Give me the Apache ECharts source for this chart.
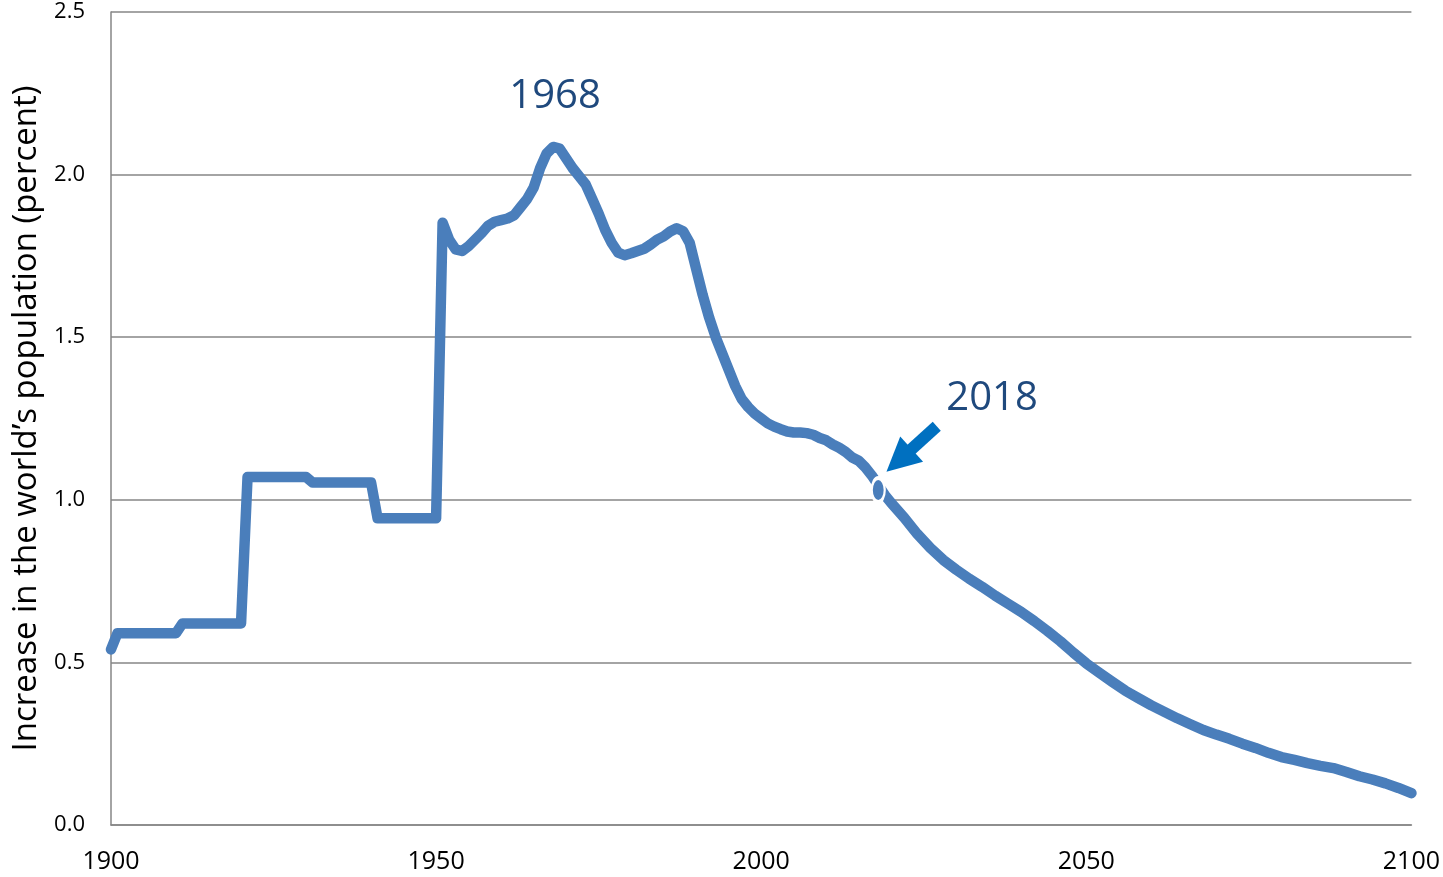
<!DOCTYPE html>
<html>
<head>
<meta charset="utf-8">
<script src="https://cdn.jsdelivr.net/npm/echarts@6/dist/echarts.min.js"></script>
<style>
  html, body { margin: 0; padding: 0; background: #fff; }
  #chart { width: 1443px; height: 877px; }
</style>
</head>
<body>
<div id="chart"></div>
<script>
// annual growth of world population, percent
const years = [
  1900, 1901, 1910, 1911, 1920, 1921, 1930, 1931, 1940, 1941, 1950,
  1951, 1952, 1953, 1954, 1955, 1956, 1957, 1958, 1959, 1960,
  1961, 1962, 1963, 1964, 1965, 1966, 1967, 1968, 1969, 1970,
  1971, 1972, 1973, 1974, 1975, 1976, 1977, 1978, 1979, 1980,
  1981, 1982, 1983, 1984, 1985, 1986, 1987, 1988, 1989, 1990,
  1991, 1992, 1993, 1994, 1995, 1996, 1997, 1998, 1999, 2000,
  2001, 2002, 2003, 2004, 2005, 2006, 2007, 2008, 2009, 2010,
  2011, 2012, 2013, 2014, 2015, 2016, 2017, 2018, 2019, 2020,
  2022, 2024, 2026, 2028, 2030, 2032, 2034, 2036, 2038, 2040,
  2042, 2044, 2046, 2048, 2050, 2052, 2054, 2056, 2058, 2060,
  2062, 2064, 2066, 2068, 2070, 2072, 2074, 2076, 2078, 2080,
  2082, 2084, 2086, 2088, 2090, 2092, 2094, 2096, 2098, 2100
];
const growth = [
  0.54, 0.59, 0.59, 0.62, 0.62, 1.07, 1.07, 1.053, 1.053, 0.943, 0.943,
  1.852, 1.80, 1.77, 1.765, 1.78, 1.80, 1.82, 1.843, 1.855, 1.86,
  1.865, 1.875, 1.90, 1.925, 1.96, 2.02, 2.065, 2.085, 2.08, 2.05,
  2.02, 1.995, 1.97, 1.925, 1.88, 1.83, 1.79, 1.76, 1.752, 1.758,
  1.765, 1.772, 1.785, 1.80, 1.81, 1.825, 1.835, 1.826, 1.79, 1.71,
  1.63, 1.56, 1.50, 1.45, 1.40, 1.35, 1.31, 1.285, 1.265, 1.25,
  1.235, 1.225, 1.217, 1.21, 1.207, 1.207, 1.205, 1.20, 1.19, 1.183,
  1.17, 1.16, 1.147, 1.13, 1.12, 1.10, 1.075, 1.045, 1.015, 0.99,
  0.945, 0.895, 0.852, 0.815, 0.785, 0.757, 0.732, 0.705, 0.68, 0.655,
  0.627, 0.597, 0.565, 0.53, 0.497, 0.468, 0.44, 0.413, 0.39, 0.368,
  0.348, 0.328, 0.31, 0.292, 0.278, 0.265, 0.25, 0.237, 0.222, 0.209,
  0.20, 0.19, 0.182, 0.175, 0.163, 0.15, 0.14, 0.128, 0.114, 0.098
];

const xTicks = [1900, 2100, 50];       // min, max, step
const yTicks = [0, 2.5, 0.5];
const yTitle = 'Increase in the world\u2019s population (percent)';

// annotations
const markYear = [2018, 1.03];
const peakLabel = { text: '1968', at: [1968.3, 2.24] };
const nowLabel = { text: '2018', at: [2035.5, 1.31] };
const arrowFrom = [2027.0, 1.226];
const arrowTo = [2021.2, 1.121];

const lineBlue = '#4a7ebb';
const gridGray = '#868686';
const labelBlue = '#1f497d';
const font = '"Open Sans", sans-serif';

const chart = echarts.init(document.getElementById('chart'));

const option = {
  animation: false,
  backgroundColor: '#fff',
  grid: { left: 111, right: 30, top: 12, bottom: 52 },
  xAxis: {
    type: 'value',
    min: xTicks[0],
    max: xTicks[1],
    interval: xTicks[2],
    axisLine: { show: true, lineStyle: { color: gridGray, width: 1.5 } },
    axisTick: { show: false },
    splitLine: { show: false },
    axisLabel: {
      color: '#000',
      fontFamily: font,
      fontSize: 25,
      margin: 24,
      formatter: v => String(v)
    }
  },
  yAxis: {
    type: 'value',
    min: yTicks[0],
    max: yTicks[1],
    interval: yTicks[2],
    name: yTitle,
    nameLocation: 'middle',
    nameRotate: 90,
    nameGap: 68,
    nameTextStyle: { color: '#000', fontFamily: font, fontSize: 33 },
    axisLine: { show: true, lineStyle: { color: gridGray, width: 1.5 } },
    axisTick: { show: false },
    splitLine: { show: true, lineStyle: { color: gridGray, width: 1.5 } },
    axisLabel: {
      color: '#000',
      fontFamily: font,
      fontSize: 22,
      margin: 26,
      formatter: v => v.toFixed(1)
    }
  },
  series: [
    {
      type: 'line',
      data: years.map((y, i) => [y, growth[i]]),
      showSymbol: false,
      symbol: 'none',
      silent: true,
      lineStyle: { color: lineBlue, width: 10.5, join: 'round', cap: 'round' },
      z: 2
    },
    {
      type: 'scatter',
      data: [markYear],
      symbol: 'circle',
      symbolSize: [13, 24],
      silent: true,
      itemStyle: { color: lineBlue, borderColor: '#fff', borderWidth: 3, opacity: 1 },
      z: 3,
      markLine: {
        silent: true,
        symbol: ['none', 'triangle'],
        symbolSize: [34, 34],
        label: { show: false },
        lineStyle: { color: '#0070c0', width: 12, type: 'solid', cap: 'butt', opacity: 1 },
        itemStyle: { color: '#0070c0' },
        data: [[{ coord: arrowFrom }, { coord: arrowTo }]]
      }
    },
    {
      type: 'scatter',
      data: [peakLabel.at, nowLabel.at],
      symbolSize: 0,
      silent: true,
      itemStyle: { opacity: 1 },
      label: {
        show: true,
        position: 'inside',
        color: labelBlue,
        opacity: 1,
        fontFamily: font,
        fontSize: 40,
        formatter: p => (p.dataIndex === 0 ? peakLabel.text : nowLabel.text)
      }
    }
  ]
};

chart.setOption(option);
</script>
</body>
</html>
